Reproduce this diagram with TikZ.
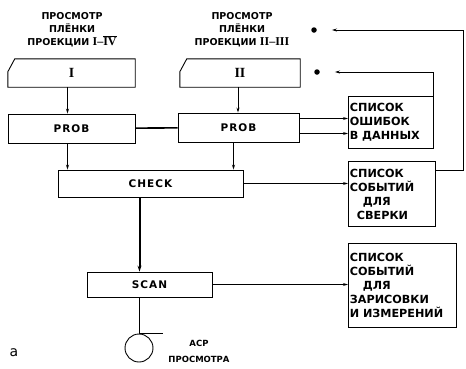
\documentclass[tikz,border=0pt]{standalone}
\usepackage{fontspec}
\setmainfont{DejaVu Sans}
\newfontfamily\numfont{Liberation Serif}
\newfontfamily\spfont{DejaVu Sans}[LetterSpace=10]
\usetikzlibrary{arrows.meta}
\tikzset{
  blk/.style={draw, line width=0.9pt, inner sep=0pt, font=\spfont\bfseries\fontsize{10.5}{12}\selectfont},
  cardbox/.style={inner sep=0pt, font=\numfont\bfseries\fontsize{14}{14}\selectfont},
  lst/.style={draw, line width=0.9pt, inner sep=1.5pt, anchor=north west, align=left,
    font=\bfseries\fontsize{11.2}{14}\selectfont},
  ttl/.style={align=center, font=\bfseries\fontsize{9.5}{13}\selectfont},
  arr/.style={line width=0.9pt, -{Stealth[length=5pt,width=3pt]}},
  dot/.style={circle, fill, inner sep=0pt, minimum size=5.5pt}
}
\newcommand{\cardpath}[1]{\draw[line width=0.9pt] (#1.south west) -- ([yshift=-13pt]#1.north west)
  -- ([xshift=7pt]#1.north west) -- (#1.north east) -- (#1.south east) -- cycle;}
\begin{document}
\begin{tikzpicture}[x=1pt,y=-1pt]
\useasboundingbox (0,0) rectangle (466,368);

\node[ttl] (ttlI) at (72,30) {ПРОСМОТР\\ПЛЁНКИ\\ПРОЕКЦИИ {\numfont\bfseries\fontsize{12}{12}\selectfont I–$\overline{\hbox{\numfont\bfseries IV}}$}};
\node[ttl] (ttlII) at (242,30) {ПРОСМОТР\\ПЛЁНКИ\\ПРОЕКЦИИ {\numfont\bfseries\fontsize{12}{12}\selectfont II–III}};

\node[cardbox, minimum width=127pt, minimum height=28pt] (cardI) at (71.5,73) {I};
\node[cardbox, minimum width=120pt, minimum height=28pt] (cardII) at (240,73) {II};
\cardpath{cardI}
\cardpath{cardII}

\node[blk, minimum width=127pt, minimum height=29pt] (probL) at (71.5,128.5) {PROB};
\node[blk, minimum width=121pt, minimum height=29pt] (probR) at (238.5,127.5) {PROB};
\node[blk, minimum width=185pt, minimum height=27pt] (check) at (150.5,183.5) {CHECK};
\node[blk, minimum width=125pt, minimum height=25pt] (scan) at (149.5,284.5) {SCAN};

\node[lst, text width=82pt, minimum height=52pt] (errors) at (348,96) {СПИСОК\\ОШИБОК\\В ДАННЫХ};
\node[lst, text width=84pt, minimum height=65pt] (verify) at (348,161) {СПИСОК\\СОБЫТИЙ\\\hspace*{13pt}ДЛЯ\\\hspace*{7pt}СВЕРКИ};
\node[lst, text width=105pt, minimum height=84pt] (measure) at (348,243) {СПИСОК\\СОБЫТИЙ\\\hspace*{13pt}ДЛЯ\\ЗАРИСОВКИ\\И ИЗМЕРЕНИЙ};

\node[dot] (dotA) at (314,30) {};
\node[dot] (dotB) at (317,72) {};
\coordinate (cornerA) at (463,30);

\node[circle, draw, line width=0.9pt, minimum size=28pt, inner sep=0pt] (tape) at (139,348) {};
\node[align=center, font=\bfseries\fontsize{8.5}{16}\selectfont] (tapelbl) at (199,351) {АСР\\ПРОСМОТРА};
\node[font=\fontsize{14}{14}\selectfont] (tag) at (14,353) {а};

\draw[arr] ([xshift=-4pt]cardI.south) -- ([xshift=-4pt]probL.north);
\draw[arr] ([xshift=-2pt]cardII.south) -- ([xshift=-2pt]cardII.south |- probR.north);
\draw[line width=1.6pt] (probL) -- (probR);
\draw[arr] ([yshift=9pt]probR.east) -- ([yshift=9pt]probR.east -| errors.west);
\draw[arr] ([yshift=-6pt]probR.east) -- ([yshift=-6pt]probR.east -| errors.west);
\draw[arr] ([xshift=-4pt]probL.south) -- ([xshift=-4pt]probL.south |- check.north);
\draw[arr] ([xshift=-5pt]probR.south) -- ([xshift=-5pt]probR.south |- check.north);
\draw[arr] (check.east) -- (check.east -| verify.west);
\draw[line width=2pt, -{Stealth[length=6pt,width=4pt]}] ([xshift=-11pt]check.south) -- ([xshift=-11pt]check.south |- scan.north);
\draw[arr] (scan.east) -- (scan.east -| measure.west);
\draw[line width=0.9pt] (scan.south -| tape.north) -- (tape.north) -- ++(24,0);
\draw[arr, shorten >=15pt] (errors.north east) |- (dotB);
\draw[arr, shorten >=15pt] ([yshift=-9pt]verify.north east) -| (cornerA) -- (dotA);
\end{tikzpicture}
\end{document}
